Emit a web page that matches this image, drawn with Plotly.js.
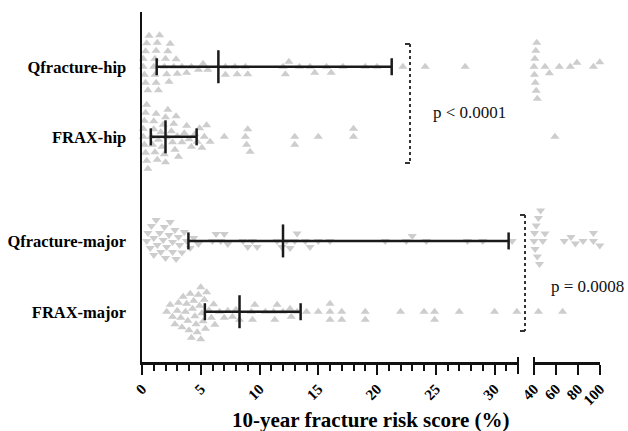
<!DOCTYPE html>
<html>
<head>
<meta charset="utf-8">
<script src="https://cdn.plot.ly/plotly-3.0.1.min.js"></script>
<style>html,body{margin:0;padding:0;background:#fff;}#chart{width:628px;height:431px;}</style>
</head>
<body>
<div id="chart"></div>
<script>
// ---- data ----
const categories = ['Qfracture-hip', 'FRAX-hip', 'Qfracture-major', 'FRAX-major'];

const qfractureHip = [
  0.1, 0.1, 0.2, 0.3, 0.3, 0.4, 0.5, 0.6,
  1.0, 1.1, 1.1, 1.2, 1.2, 1.3, 1.4, 1.5,
  1.9, 2.0, 2.1, 2.2, 2.3, 2.4,
  2.7, 2.9, 3.0,
  3.4, 3.8, 4.2, 4.8, 5.2, 5.6,
  7.1, 7.1, 7.9, 8.1, 8.8, 9.0,
  12.0, 12.2, 12.5, 13.4, 14.3, 14.7, 15.7, 16.1, 17.1, 19.0, 20.0, 22.2, 24.1, 27.5,
  40.0, 40.4, 40.8, 41.2, 41.6, 42.0, 42.5, 43.0, 50.0, 54.0, 63.0, 73.0, 79.0, 94.0, 99.8
];
const fraxHip = [
  0.1, 0.1, 0.2, 0.2, 0.3, 0.3, 0.4, 0.4, 0.5,
  0.8, 0.9, 1.0, 1.0, 1.1, 1.2, 1.3, 1.4,
  1.6, 1.7, 1.8, 1.9, 2.0, 2.0, 2.1, 2.2,
  2.5, 2.6, 2.7, 2.8, 2.9, 3.0, 3.1,
  3.4, 3.6, 3.8, 4.0, 4.2,
  4.5, 4.7, 4.9, 5.1, 5.3, 5.5, 5.8,
  7.0, 8.8, 8.9, 9.0, 9.2, 13.0, 13.0, 15.0, 18.0, 18.0,
  59.0
];
const qfractureMajor = [
  0.4, 0.5, 0.7, 0.8, 1.0, 1.0, 1.2, 1.3, 1.5, 1.6, 1.8, 1.9, 2.0, 2.1, 2.3, 2.4,
  2.6, 2.6, 2.8, 2.9, 3.1, 3.2, 3.4, 3.6, 3.8, 4.1, 4.4,
  4.8, 6.0, 6.3, 6.7, 7.0, 7.3,
  8.6, 9.0, 9.4, 9.8,
  11.5, 11.9, 12.3, 12.6, 13.0, 13.2,
  13.9, 14.3, 15.0, 16.0,
  20.7, 22.5, 23.0, 24.2, 27.7, 29.0, 31.5,
  40.0, 40.5, 41.0, 42.0, 43.0, 44.0, 45.0, 46.0, 48.0, 50.0,
  67.5, 73.6, 77.6, 84.6, 94.0, 94.0, 99.8
];
const fraxMajor = [
  2.1, 2.4, 2.6, 2.8, 3.0, 3.1, 3.3, 3.4, 3.5, 3.7, 3.8, 3.9, 4.0, 4.1, 4.2, 4.3,
  4.4, 4.5, 4.6, 4.7, 4.8, 4.9, 5.0, 5.0, 5.1, 5.2, 5.3, 5.4, 5.5, 5.7, 5.9, 6.1, 6.2,
  6.6, 7.0, 7.3, 7.7, 8.0, 8.3,
  9.3, 9.4, 9.6, 10.5, 11.2, 11.3, 11.5, 12.0, 12.6, 12.7, 13.2,
  14.0, 15.0, 16.0, 16.0, 16.0, 17.0, 17.0, 19.0, 19.0, 22.0, 24.0, 24.9, 24.9, 27.0, 30.0, 31.9,
  44.0, 66.0
];
const seriesValues = [qfractureHip, fraxHip, qfractureMajor, fraxMajor];

const medians = [6.5, 2.0, 12.0, 8.3];
const q1 = [1.25, 0.75, 3.95, 5.35];
const q3 = [21.25, 4.65, 31.2, 13.5];

const tickLabels1 = ['0', '5', '10', '15', '20', '25', '30'];
const tickLabels2 = ['40', '60', '80', '100'];

// ---- layout constants ----
const W = 628, H = 431;
const M = {l: 142, r: 28, t: 12, b: 69};
const PW = W - M.l - M.r, PH = H - M.t - M.b;
const dom1 = [0, 0.821], range1 = [0, 32];
const dom2 = [0.8559, 1], range2 = [40, 100];
const yRange = [-0.71, 4.233];
const rowPos = [3.46, 2.47, 1.0, 0.0];
const symbols = ['triangle-up', 'triangle-up', 'triangle-down', 'triangle-up'];
const serif = 'Liberation Serif, Times New Roman, serif';

const pxPerX1 = (dom1[1] - dom1[0]) * PW / (range1[1] - range1[0]);
const pxPerX2 = (dom2[1] - dom2[0]) * PW / (range2[1] - range2[0]);
const pxPerY = PH / (yRange[1] - yRange[0]);
function toPx(v) {
  if (v <= range1[1]) return dom1[0] * PW + (v - range1[0]) * pxPerX1;
  return dom2[0] * PW + (v - range2[0]) * pxPerX2;
}

// simple beeswarm placement (pixel space) -> vertical offsets
function swarm(vals, D) {
  const pts = vals.map((v, i) => ({v, i, px: toPx(v)})).sort((a, b) => a.px - b.px);
  const placed = [];
  const off = new Array(vals.length).fill(0);
  let flip = 1;
  for (const p of pts) {
    let done = false;
    for (let d = 0; d < 400 && !done; d += 0.5) {
      const cands = d === 0 ? [0] : [flip * d, -flip * d];
      for (const c of cands) {
        let ok = true;
        for (const q of placed) {
          const dx = p.px - q.px, dy = c - q.py;
          if (dx * dx + dy * dy < D * D) { ok = false; break; }
        }
        if (ok) { placed.push({px: p.px, py: c}); off[p.i] = c; done = true; flip = -flip; break; }
      }
    }
  }
  return off;
}

const traces = [];
categories.forEach((cat, k) => {
  const vals = seriesValues[k];
  const offs = swarm(vals, 7.6);
  const x1 = [], y1 = [], x2 = [], y2 = [];
  vals.forEach((v, i) => {
    const y = rowPos[k] - offs[i] / pxPerY;
    if (v <= range1[1]) { x1.push(v); y1.push(y); } else { x2.push(v); y2.push(y); }
  });
  const mk = {symbol: symbols[k], size: 8, color: '#cdcdcd', line: {width: 0}};
  traces.push({type: 'scatter', mode: 'markers', x: x1, y: y1, xaxis: 'x', yaxis: 'y', marker: mk, cliponaxis: false, showlegend: false, hoverinfo: 'x', name: cat});
  traces.push({type: 'scatter', mode: 'markers', x: x2, y: y2, xaxis: 'x2', yaxis: 'y', marker: mk, cliponaxis: false, showlegend: false, hoverinfo: 'x', name: cat});
});

// error bars (median with IQR)
const capH = 8.5 / pxPerY, medH = 16.5 / pxPerY;
categories.forEach((cat, k) => {
  const y = rowPos[k];
  traces.push({
    type: 'scatter', mode: 'lines', xaxis: 'x', yaxis: 'y', showlegend: false, hoverinfo: 'skip', cliponaxis: false,
    x: [q1[k], q3[k], null, q1[k], q1[k], null, q3[k], q3[k], null, medians[k], medians[k]],
    y: [y, y, null, y - capH, y + capH, null, y - capH, y + capH, null, y - medH, y + medH],
    line: {color: '#1a1a1a', width: 2.5}
  });
});

// brackets / annotations positions (pixel-based layout)
const yPx0 = M.t + PH + yRange[0] * pxPerY; // pixel y of data 0
const yd = py => (yPx0 - py) / pxPerY;
const xp = px => (px - M.l) / PW;

const dotLine = {color: '#333', width: 2, dash: 'dot'};
const solid = {color: '#333', width: 2};
const shapes = [
  // bracket 1
  {type: 'line', xref: 'paper', yref: 'y', x0: xp(410), x1: xp(410), y0: yd(44), y1: yd(163), line: dotLine},
  {type: 'line', xref: 'paper', yref: 'y', x0: xp(405), x1: xp(410), y0: yd(44), y1: yd(44), line: solid},
  {type: 'line', xref: 'paper', yref: 'y', x0: xp(405), x1: xp(410), y0: yd(163), y1: yd(163), line: solid},
  // bracket 2
  {type: 'line', xref: 'paper', yref: 'y', x0: xp(525), x1: xp(525), y0: yd(215), y1: yd(331), line: dotLine},
  {type: 'line', xref: 'paper', yref: 'y', x0: xp(520), x1: xp(525), y0: yd(215), y1: yd(215), line: solid},
  {type: 'line', xref: 'paper', yref: 'y', x0: xp(520), x1: xp(525), y0: yd(331), y1: yd(331), line: solid},
  // axis break end caps
  {type: 'line', xref: 'paper', yref: 'paper', x0: dom1[1], x1: dom1[1], y0: -12 / PH, y1: 5 / PH, line: {color: '#111', width: 2}},
  {type: 'line', xref: 'paper', yref: 'paper', x0: dom2[0], x1: dom2[0], y0: -12 / PH, y1: 5 / PH, line: {color: '#111', width: 2}}
];

const tickFont = {family: serif, size: 15, color: '#000', weight: 700};
const layout = {
  width: W, height: H,
  margin: M,
  paper_bgcolor: '#fff', plot_bgcolor: '#fff',
  showlegend: false,
  xaxis: {
    domain: dom1, range: range1, anchor: 'y',
    showline: true, linecolor: '#111', linewidth: 2.5,
    showgrid: false, zeroline: false,
    ticks: 'outside', ticklen: 10, tickwidth: 2, tickcolor: '#111',
    tickmode: 'array', tickvals: tickLabels1.map(Number), ticktext: tickLabels1,
    tickangle: -45, tickfont: tickFont, automargin: false,
    minor: {dtick: 1, tick0: 0, ticks: 'outside', ticklen: 6, tickwidth: 2, tickcolor: '#111', showgrid: false}
  },
  xaxis2: {
    domain: dom2, range: range2, anchor: 'y',
    showline: true, linecolor: '#111', linewidth: 2.5,
    showgrid: false, zeroline: false,
    ticks: 'outside', ticklen: 10, tickwidth: 2, tickcolor: '#111',
    tickmode: 'array', tickvals: tickLabels2.map(Number), ticktext: tickLabels2,
    tickangle: -45, tickfont: tickFont, automargin: false
  },
  yaxis: {
    range: yRange, anchor: 'x',
    showline: true, linecolor: '#111', linewidth: 2.5,
    showgrid: false, zeroline: false, ticks: '',
    tickmode: 'array', tickvals: rowPos, ticktext: categories,
    tickfont: {family: serif, size: 16.5, color: '#000', weight: 700},
    ticklabelstandoff: 10, automargin: false
  },
  shapes: shapes,
  annotations: [
    {xref: 'paper', yref: 'paper', x: 0.5, y: -(420 - M.t - PH) / PH, yanchor: 'middle', xanchor: 'center',
     text: '10-year fracture risk score (%)', showarrow: false,
     font: {family: serif, size: 21, color: '#000', weight: 700}},
    {xref: 'paper', yref: 'y', x: xp(431), y: yd(112), xanchor: 'left', yanchor: 'middle',
     text: 'p &lt; 0.0001', showarrow: false, font: {family: serif, size: 17, color: '#111'}},
    {xref: 'paper', yref: 'y', x: xp(549), y: yd(286), xanchor: 'left', yanchor: 'middle',
     text: 'p = 0.0008', showarrow: false, font: {family: serif, size: 17, color: '#111'}}
  ]
};

Plotly.newPlot('chart', traces, layout, {staticPlot: true, displayModeBar: false});
</script>
</body>
</html>
